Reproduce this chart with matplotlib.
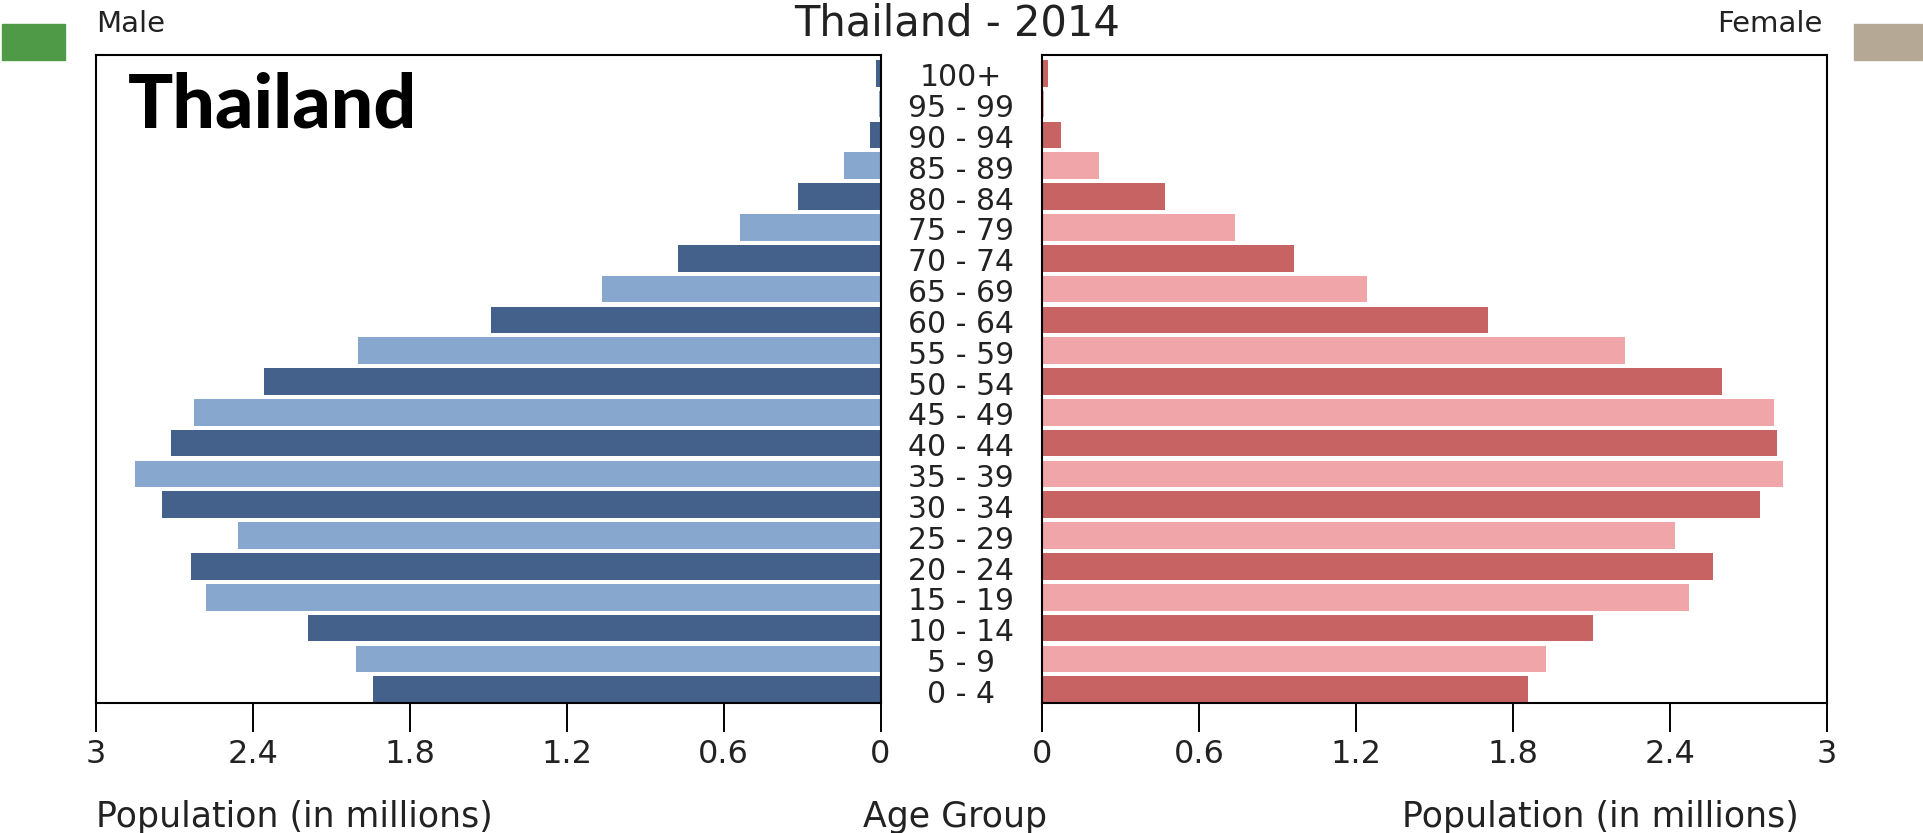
import numpy as np
import matplotlib
matplotlib.use('Agg')
import matplotlib.pyplot as plt
from matplotlib.patches import Rectangle
from matplotlib.transforms import blended_transform_factory

# population by age group, millions (bottom row first)
age_groups = ['0 - 4', '5 - 9', '10 - 14', '15 - 19', '20 - 24', '25 - 29',
              '30 - 34', '35 - 39', '40 - 44', '45 - 49', '50 - 54', '55 - 59',
              '60 - 64', '65 - 69', '70 - 74', '75 - 79', '80 - 84', '85 - 89',
              '90 - 94', '95 - 99', '100+']
male = [1.939, 2.005, 2.188, 2.579, 2.636, 2.455, 2.748, 2.850, 2.714, 2.625,
        2.357, 1.997, 1.491, 1.064, 0.774, 0.539, 0.314, 0.140, 0.041, 0.006, 0.019]
female = [1.857, 1.925, 2.104, 2.473, 2.563, 2.419, 2.744, 2.832, 2.809, 2.797,
          2.597, 2.228, 1.703, 1.243, 0.962, 0.737, 0.470, 0.218, 0.074, 0.008, 0.022]
xticks = [0, 0.6, 1.2, 1.8, 2.4, 3]
xtick_labels = ['0', '0.6', '1.2', '1.8', '2.4', '3']

male_cols = ['#43618a', '#87a7cf']
female_cols = ['#c86363', '#f0a6a8']
txt = '#222222'
bar_h = 0.865

fig = plt.figure(figsize=(19.23, 8.33), dpi=100)
ax_l = fig.add_axes([0.0498, 0.156, 0.4081, 0.778])
ax_r = fig.add_axes([0.5419, 0.156, 0.4082, 0.778])

y = np.arange(len(age_groups))
ax_l.barh(y, male, height=bar_h, color=[male_cols[i % 2] for i in y])
ax_r.barh(y, female, height=bar_h, color=[female_cols[i % 2] for i in y])

for ax in (ax_l, ax_r):
    # bottom bar sits on the axis line, small gap above the top bar
    ax.set_ylim(-bar_h / 2, len(age_groups) - 1 + bar_h / 2 + 0.16)
    ax.set_yticks([])
    ax.set_xticks(xticks)
    ax.set_xticklabels(xtick_labels)
    ax.tick_params(axis='x', direction='out', length=21, width=1.4,
                   pad=5, labelsize=23, colors='black', labelcolor=txt)
    for s in ax.spines.values():
        s.set_linewidth(1.5)
        s.set_color('black')
ax_l.set_xlim(3, 0)
ax_r.set_xlim(0, 3)

# age labels between the two halves
tr = blended_transform_factory(fig.transFigure, ax_l.transData)
for i, lab in enumerate(age_groups):
    ax_l.text(0.4997, i - 0.15, lab, transform=tr, ha='center', va='center',
              fontsize=21.5, color=txt, clip_on=False)

fig.text(0.4975, 0.972, 'Thailand - 2014', ha='center', va='center',
         fontsize=30, color=txt)
fig.text(0.0498, 0.971, 'Male', ha='left', va='center', fontsize=21, color=txt)
fig.text(0.9475, 0.971, 'Female', ha='right', va='center', fontsize=21, color=txt)

fig.text(0.0498, 0.019, 'Population (in millions)', ha='left', va='center',
         fontsize=25, color=txt)
fig.text(0.9355, 0.019, 'Population (in millions)', ha='right', va='center',
         fontsize=25, color=txt)
fig.text(0.4965, 0.019, 'Age Group', ha='center', va='center',
         fontsize=25, color=txt)

ax_l.text(0.041, 0.888, 'Thailand', transform=ax_l.transAxes, ha='left',
          va='baseline', fontsize=54, fontweight='black', family='Lato',
          color='black')

# coloured swatches in the corners
fig.patches.append(Rectangle((0.001, 0.928), 0.0328, 0.043, transform=fig.transFigure,
                             color='#4f9a47', figure=fig))
fig.patches.append(Rectangle((0.964, 0.928), 0.0355, 0.043, transform=fig.transFigure,
                             color='#b5a996', figure=fig))

fig.savefig('out.png', dpi=100)
